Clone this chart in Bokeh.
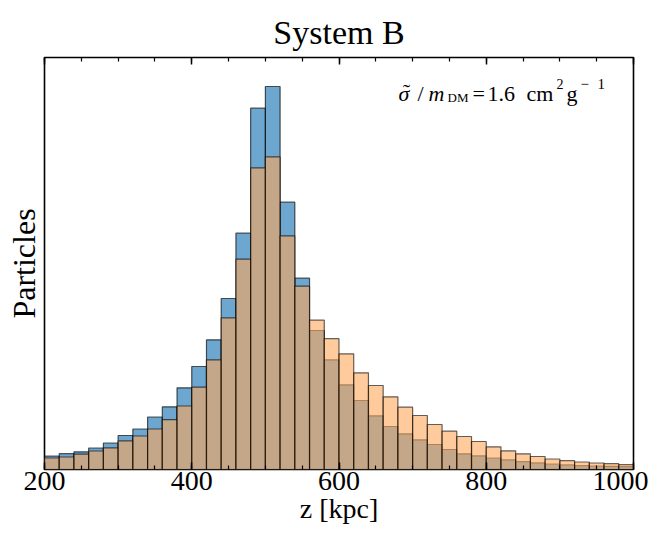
from bokeh.plotting import figure
from bokeh.models import LinearAxis, SingleIntervalTicker, FixedTicker, Range1d, Label
from bokeh.embed import file_html
from bokeh.resources import INLINE

# ---- data ----
bin_left = list(range(200, 1000, 20))
bin_width = 20
counts_blue = [133, 158, 177, 215, 265, 340, 405, 525, 627, 817,
               1030, 1297, 1710, 2363, 3613, 3830, 2673, 1913, 1390, 1097,
               847, 690, 537, 430, 357, 297, 250, 200, 157, 137,
               115, 97, 78, 66, 55, 46, 38, 35, 32, 28]
counts_orange = [115, 125, 153, 185, 217, 287, 335, 405, 498, 635,
                 823, 1097, 1517, 2103, 3017, 3127, 2337, 1833, 1493, 1308,
                 1157, 967, 840, 727, 623, 540, 450, 383, 330, 280,
                 227, 187, 157, 130, 105, 88, 75, 65, 58, 48]
x_ticks_major = 200
title_text = "System B"
x_label = "z [kpc]"
y_label = "Particles"

bin_right = [b + bin_width for b in bin_left]
YMAX = 4120
FONT = "Liberation Serif"

# frame placement (canvas px)
FL, FR, FT, FB = 44, 633, 57, 469
W, H = 648, 535

p = figure(width=W, height=H, output_backend="svg", toolbar_location=None,
           x_range=Range1d(200, 1000), y_range=Range1d(0, YMAX),
           title=title_text,
           min_border_left=FL, min_border_right=W - FR,
           min_border_top=FT, min_border_bottom=H - FB)
p.background_fill_color = "white"
p.border_fill_color = "white"
p.grid.visible = False
p.outline_line_color = "black"
p.outline_line_width = 1.6
p.outline_line_alpha = 1.0

p.title.text_font = FONT
p.title.text_font_size = "34px"
p.title.text_font_style = "normal"
p.title.align = "center"
p.title.vertical_align = "top"
p.title.text_line_height = 1.0
p.title.text_color = "black"
p.title.standoff = 10

# bars
p.quad(left=bin_left, right=bin_right, bottom=0, top=counts_blue,
       fill_color="#1f77b4", fill_alpha=0.65, line_color="black", line_alpha=0.65, line_width=1.2)
p.quad(left=bin_left, right=bin_right, bottom=0, top=counts_orange,
       fill_color="#ffa85a", fill_alpha=0.6, line_color="black", line_alpha=0.6, line_width=1.2)

# bottom axis
xa = p.xaxis[0]
xa.ticker = SingleIntervalTicker(interval=x_ticks_major, num_minor_ticks=4)
xa.major_label_text_font = FONT
xa.major_label_text_font_size = "28px"
xa.major_label_text_color = "black"
xa.major_label_standoff = 2
xa.axis_label = x_label
xa.axis_label_text_font = FONT
xa.axis_label_text_font_size = "28px"
xa.axis_label_text_font_style = "normal"
xa.axis_label_text_color = "black"
xa.axis_label_text_line_height = 1.0
xa.axis_label_standoff = 0
xa.major_tick_in = 7
xa.major_tick_out = 0
xa.minor_tick_in = 4
xa.minor_tick_out = 0
xa.major_tick_line_width = 1.5
xa.minor_tick_line_width = 1.2
xa.major_tick_line_color = "black"
xa.minor_tick_line_color = "black"
xa.axis_line_color = None

# top axis (ticks only, labels not drawn)
ta = LinearAxis(ticker=SingleIntervalTicker(interval=x_ticks_major, num_minor_ticks=4))
ta.major_label_text_font_size = "1px"
ta.major_label_text_color = None
ta.major_tick_in = 7
ta.major_tick_out = 0
ta.minor_tick_in = 4
ta.minor_tick_out = 0
ta.major_tick_line_width = 1.5
ta.minor_tick_line_width = 1.2
ta.major_tick_line_color = "black"
ta.minor_tick_line_color = "black"
ta.axis_line_color = None
ta.major_label_standoff = 0
p.add_layout(ta, "above")

# left axis (label only)
ya = p.yaxis[0]
ya.ticker = FixedTicker(ticks=[])
ya.major_label_text_font_size = "1px"
ya.major_label_text_color = None
ya.major_tick_in = 0
ya.major_tick_out = 0
ya.minor_tick_in = 0
ya.minor_tick_out = 0
ya.axis_line_color = None
ya.major_label_standoff = 0
ya.axis_label = y_label
ya.axis_label_text_font = FONT
ya.axis_label_text_font_size = "32px"
ya.axis_label_text_font_style = "normal"
ya.axis_label_text_color = "black"
ya.axis_label_standoff = 3

# pixel layout -> data coords (annotation inside the frame)
def dx(px):
    return 200 + (px - FL) * 800.0 / (FR - FL)

def dy(py):
    return (FB - py) * YMAX / float(FB - FT)

pieces = [
    ("\u03c3", 398, 93, "22px", "italic", "left"),
    ("\u02dc", 406, 91, "22px", "normal", "center"),
    ("/", 417, 93, "22px", "normal", "left"),
    ("m", 428, 93, "22px", "italic", "left"),
    ("DM", 447, 97, "13px", "normal", "left"),
    ("=", 472, 93, "22px", "normal", "left"),
    ("1.6", 487, 93, "22px", "normal", "left"),
    ("cm", 526, 93, "22px", "normal", "left"),
    ("2", 556, 83, "14px", "normal", "left"),
    ("g", 566, 93, "22px", "normal", "left"),
    ("\u2212", 580, 83, "15px", "normal", "left"),
    ("1", 597, 83, "15px", "normal", "left"),
]
for txt, px, py, fs, st, al in pieces:
    p.add_layout(Label(x=dx(px), y=dy(py), text=txt, text_font=FONT, text_font_size=fs,
                       text_font_style=st, text_color="black", text_align=al,
                       text_baseline="alphabetic"))

open("out.html", "w").write(file_html(p, INLINE))
